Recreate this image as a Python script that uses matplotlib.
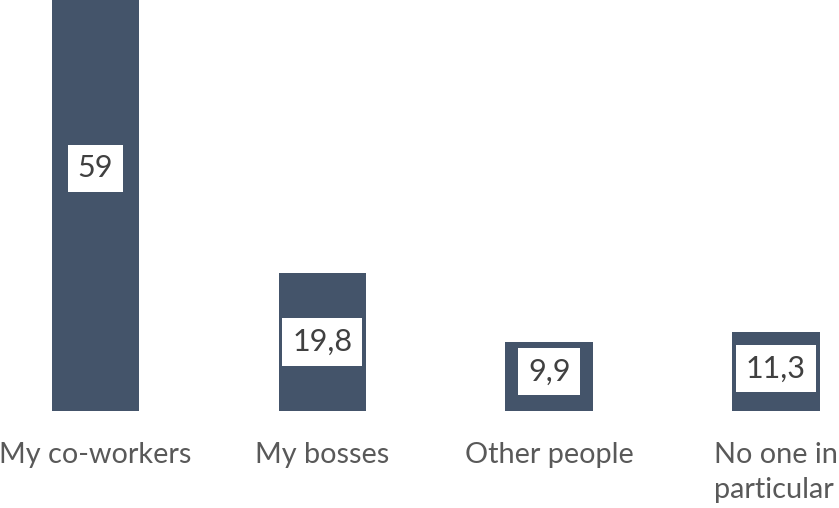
import matplotlib.pyplot as plt
import numpy as np

# data
categories = ['My co-workers', 'My bosses', 'Other people', 'No one in\nparticular']
values = [59, 19.8, 9.9, 11.3]
value_labels = ['59', '19,8', '9,9', '11,3']

# where the value box sits, as a share of bar height
label_frac = [0.59, 0.5, 0.57, 0.54]

bar_color = '#44546A'
text_color = '#595959'

plt.rcParams['font.family'] = ['Lato', 'DejaVu Sans']

fig = plt.figure(figsize=(8.39, 5.08), dpi=100)
ax = fig.add_axes([0.0, 0.191, 1.0, 0.809])

x = np.arange(len(categories))
bars = ax.bar(x, values, width=0.385, color=bar_color)

for xi, v, lab, f in zip(x, values, value_labels, label_frac):
    ax.text(xi, v * f, lab, ha='center', va='center', fontsize=22,
            color='#404040',
            bbox=dict(boxstyle='square,pad=0.32', facecolor='white', edgecolor='none'))

ax.set_xlim(-0.421, 3.278)
ax.set_ylim(0, 59)
ax.set_xticks(x)
ax.set_xticklabels(categories, fontsize=20.8, color=text_color, va='top',
                   multialignment='left', linespacing=1.45)
ax.tick_params(axis='x', length=0, pad=22)
ax.set_yticks([])
for s in ax.spines.values():
    s.set_visible(False)

fig.savefig('out.png', dpi=100)
